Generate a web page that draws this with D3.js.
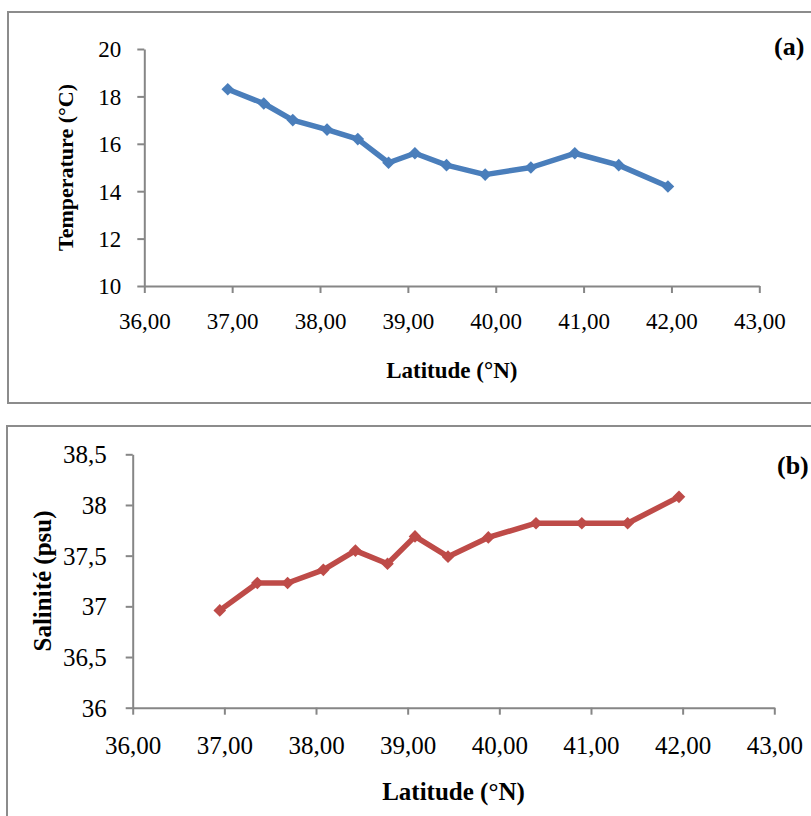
<!DOCTYPE html>
<html>
<head>
<meta charset="utf-8">
<script src="https://cdn.jsdelivr.net/npm/d3@7"></script>
<style>
  html, body { margin: 0; padding: 0; background: #ffffff; }
  svg { display: block; }
  svg text { font-family: "Liberation Serif", "Times New Roman", serif; fill: #000; }
</style>
</head>
<body>
<svg id="chart" width="811" height="816"></svg>
<script>
// Station latitudes (°N)
const latitudes = [36.95, 37.36, 37.69, 38.08, 38.43, 38.78, 39.08, 39.44, 39.88, 40.40, 40.90, 41.40, 41.96];
// Surface temperature (°C)
const temperature = [18.3, 17.7, 17.0, 16.6, 16.2, 15.2, 15.6, 15.1, 14.7, 15.0, 15.6, 15.1, 14.2];
// Surface salinity (psu)
const salinity = [36.96, 37.23, 37.23, 37.36, 37.55, 37.42, 37.69, 37.49, 37.68, 37.82, 37.82, 37.82, 38.08];

const xTicks = [36, 37, 38, 39, 40, 41, 42, 43];
const tempTicks = [10, 12, 14, 16, 18, 20];
const salTicks = [36, 36.5, 37, 37.5, 38, 38.5];

const svg = d3.select("#chart");
const axisColor = "#868686";
const frameColor = "#8c8c8c";
const serif = "Liberation Serif, Times New Roman, serif";

const fmtLat = d => d3.format(".2f")(d).replace(".", ",");
const fmtVal = d => String(d).replace(".", ",");

function panel(cfg) {
  const g = svg.append("g");

  // frame around the panel
  g.append("rect")
    .attr("x", cfg.frame[0]).attr("y", cfg.frame[1])
    .attr("width", cfg.frame[2]).attr("height", cfg.frame[3])
    .attr("fill", "none").attr("stroke", frameColor).attr("stroke-width", 2);

  const x = d3.scaleLinear().domain([36, 43]).range(cfg.xRange);
  const y = d3.scaleLinear().domain(cfg.yDomain).range(cfg.yRange);

  const xAxis = g.append("g")
    .attr("transform", `translate(0,${cfg.yRange[0]})`)
    .call(d3.axisBottom(x).tickValues(xTicks).tickFormat(fmtLat)
      .tickSizeInner(7).tickSizeOuter(0).tickPadding(cfg.xPad));
  const yAxis = g.append("g")
    .attr("transform", `translate(${cfg.xRange[0]},0)`)
    .call(d3.axisLeft(y).tickValues(cfg.yTicks).tickFormat(fmtVal)
      .tickSizeInner(7).tickSizeOuter(0).tickPadding(cfg.yPad));

  [xAxis, yAxis].forEach(a => {
    a.attr("font-family", serif).attr("font-size", cfg.tickFont);
    a.select(".domain").attr("stroke", axisColor).attr("stroke-width", 2);
    a.selectAll(".tick line").attr("stroke", axisColor).attr("stroke-width", 2);
    a.selectAll(".tick text")
      .attr("font-family", serif)
      .style("font-family", serif)
      .style("font-size", cfg.tickFont + "px").attr("fill", "#000");
  });
  yAxis.selectAll(".tick text").attr("dy", "0.34em");

  // series line
  const pts = latitudes.map((lat, i) => [lat, cfg.values[i]]);
  g.append("path")
    .datum(pts)
    .attr("fill", "none")
    .attr("stroke", cfg.color)
    .attr("stroke-width", 5.5)
    .attr("stroke-linejoin", "round")
    .attr("d", d3.line().x(d => x(d[0])).y(d => y(d[1])));

  // diamond markers
  const diamond = d3.symbol().type(d3.symbolSquare).size(80);
  g.selectAll(".mk").data(pts).enter().append("path")
    .attr("class", "mk")
    .attr("d", diamond)
    .attr("fill", cfg.color)
    .attr("transform", d => `translate(${x(d[0])},${y(d[1])}) rotate(45)`);

  // axis titles
  g.append("text")
    .attr("x", (cfg.xRange[0] + cfg.xRange[1]) / 2)
    .attr("y", cfg.xTitleY)
    .attr("text-anchor", "middle")
    .style("font-weight", "bold").style("font-size", cfg.titleFont + "px")
    .text("Latitude (°N)");
  g.append("text")
    .attr("transform", `translate(${cfg.yTitleX},${(cfg.yRange[0] + cfg.yRange[1]) / 2}) rotate(-90)`)
    .attr("text-anchor", "middle")
    .attr("dy", "0.35em")
    .style("font-weight", "bold").style("font-size", cfg.yTitleFont + "px")
    .text(cfg.yTitle);

  // panel tag
  g.append("text")
    .attr("x", cfg.tag[0]).attr("y", cfg.tag[1])
    .style("font-weight", "bold").style("font-size", cfg.tagFont + "px")
    .text(cfg.tagText);
}

panel({
  frame: [8, 12, 820, 391],
  xRange: [144.3, 759.3],
  yRange: [286, 49],
  yDomain: [10, 20],
  yTicks: tempTicks,
  values: temperature,
  color: "#4a7ebb",
  tickFont: 23, xPad: 20, yPad: 16,
  titleFont: 23, xTitleY: 378,
  yTitle: "Temperature (°C)", yTitleX: 65, yTitleFont: 22,
  tag: [774, 55], tagFont: 26, tagText: "(a)"
});

panel({
  frame: [7, 426, 820, 420],
  xRange: [132.7, 774.3],
  yRange: [707.7, 454.3],
  yDomain: [36, 38.5],
  yTicks: salTicks,
  values: salinity,
  color: "#be4b48",
  tickFont: 25, xPad: 22, yPad: 19,
  titleFont: 25, xTitleY: 800,
  yTitle: "Salinité (psu)", yTitleX: 42, yTitleFont: 25,
  tag: [777, 474], tagFont: 26, tagText: "(b)"
});
</script>
</body>
</html>
